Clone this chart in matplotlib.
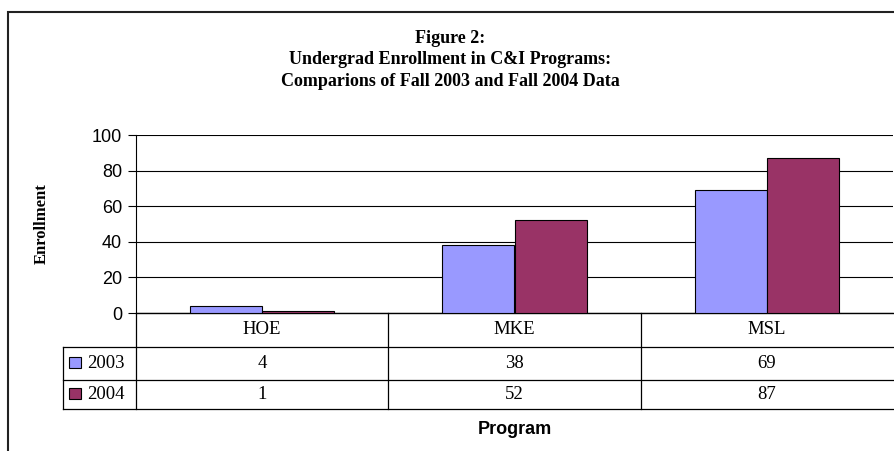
import matplotlib.pyplot as plt
import matplotlib.transforms as mtransforms
from matplotlib.patches import Rectangle
from matplotlib.lines import Line2D
import numpy as np

programs = ['HOE', 'MKE', 'MSL']
years = ['2003', '2004']
enroll_2003 = [4, 38, 69]
enroll_2004 = [1, 52, 87]
colors = ['#9999FF', '#993366']
yticks = [0, 20, 40, 60, 80, 100]

fig = plt.figure(figsize=(8.95, 4.51), dpi=100)
W, H = 895, 451
# plot area in pixels: left 136, right 893, top 135, bottom 313
ax = fig.add_axes([136 / W, 1 - 313 / H, (893 - 136) / W, (313 - 135) / H])

x = np.arange(len(programs))
bw = 0.286
series = [enroll_2003, enroll_2004]
for i, vals in enumerate(series):
    ax.bar(x + (i - 0.5) * bw, vals, bw, color=colors[i],
           edgecolor='black', linewidth=0.8, zorder=3)

ax.set_xlim(-0.5, len(programs) - 0.5)
ax.set_ylim(0, 100)
ax.set_yticks(yticks)
ax.set_yticklabels([str(t) for t in yticks], fontfamily='Liberation Sans', fontsize=13)
ax.yaxis.grid(True, color='black', linewidth=0.8)
ax.set_axisbelow(True)
ax.set_xticks([])
ax.tick_params(axis='y', length=6, width=0.8, pad=4)
for s in ['top', 'right']:
    ax.spines[s].set_visible(False)
ax.spines['left'].set_linewidth(0.8)
ax.spines['bottom'].set_linewidth(1.0)

# data table under the plot
trans = mtransforms.blended_transform_factory(ax.transData, ax.transAxes)
rows_y = [0, -34 / 178, -67 / 178, -96 / 178]
left_col = -73 / 757
kw = dict(color='black', linewidth=0.9, clip_on=False)
for yy in rows_y[1:]:
    ax.add_line(Line2D([left_col, 1.005], [yy, yy], transform=ax.transAxes, **kw))
ax.add_line(Line2D([0, 0], [0, rows_y[-1]], transform=ax.transAxes, **kw))
ax.add_line(Line2D([left_col, left_col], [rows_y[1], rows_y[-1]], transform=ax.transAxes, **kw))
for b in np.arange(0.5, len(programs) - 0.5):
    ax.add_line(Line2D([b, b], [0, rows_y[-1]], transform=trans, **kw))

tkw = dict(fontfamily='Liberation Serif', fontsize=13.5, ha='center', va='center')
for i, p in enumerate(programs):
    ax.text(i, (rows_y[0] + rows_y[1]) / 2, p, transform=trans, **tkw)
    for r, vals in enumerate(series):
        ax.text(i, (rows_y[r + 1] + rows_y[r + 2]) / 2, str(vals[i]),
                transform=trans, **tkw)

for r, yr in enumerate(years):
    yc = (rows_y[r + 1] + rows_y[r + 2]) / 2
    ax.add_patch(Rectangle((left_col + 6 / 757, yc - 5 / 178), 12 / 757, 11 / 178,
                           transform=ax.transAxes, facecolor=colors[r],
                           edgecolor='black', linewidth=0.8, clip_on=False))
    ax.text(left_col + 24 / 757, yc, yr, transform=ax.transAxes,
            fontfamily='Liberation Serif', fontsize=13.5, ha='left', va='center')

# titles and labels
fig.text(450 / W, 1 - 60 / H, 'Figure 2:\nUndergrad Enrollment in C&I Programs:\nComparions of Fall 2003 and Fall 2004 Data',
         ha='center', va='center', fontfamily='Liberation Serif', fontweight='bold',
         fontsize=13, linespacing=1.33)
fig.text(42 / W, 1 - 224 / H, 'Enrollment', rotation=90, ha='center', va='center',
         fontfamily='Liberation Serif', fontweight='bold', fontsize=12)
fig.text(515 / W, 1 - 429 / H, 'Program', ha='center', va='center',
         fontfamily='Liberation Sans', fontweight='bold', fontsize=13)

# outer chart border (runs off the right and bottom edges)
fig.add_artist(Rectangle((8 / W, -0.1), 1.2, 1.1 - 12 / H, transform=fig.transFigure,
                         fill=False, edgecolor='#222222', linewidth=1.5))

fig.savefig('out.png', dpi=100)
